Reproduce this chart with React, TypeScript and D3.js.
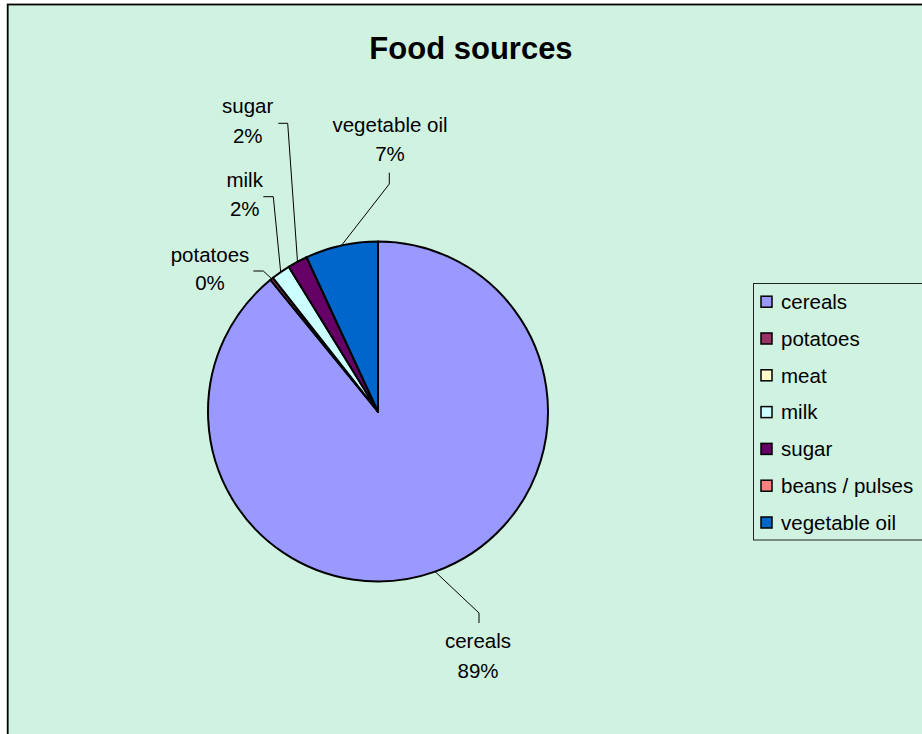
import React from 'react';
import * as d3 from 'd3';

const chartTitle = 'Food sources';
const categories = ['cereals', 'potatoes', 'meat', 'milk', 'sugar', 'beans / pulses', 'vegetable oil'];
const shares = [89.1, 0.3, 0, 1.8, 1.9, 0, 6.9];
const sliceColors = ['#9999FF', '#993366', '#FFFFCC', '#CCFFFF', '#660066', '#FF8080', '#0066CC'];

// label placement (user-moved data labels): text centre x, two baselines, leader elbow + end
const labelLayout: Record<string, { x: number; y1: number; y2: number; leader: [number, number][] }> = {
  cereals: { x: 478, y1: 648, y2: 678, leader: [[479, 613], [479, 623]] },
  potatoes: { x: 210, y1: 262, y2: 290, leader: [[263.3, 271], [253.3, 271]] },
  milk: { x: 244.7, y1: 187, y2: 216, leader: [[273.3, 196.7], [263.3, 196.7]] },
  sugar: { x: 247.7, y1: 112.5, y2: 143, leader: [[287.7, 123.3], [278.3, 123.3]] },
  'vegetable oil': { x: 390, y1: 131.5, y2: 160.5, leader: [[389.3, 184], [389.3, 172.7]] },
};

const W = 922;
const H = 734;
const cx = 378;
const cy = 411.5;
const R = 170;
const BG = '#D0F2E0';
const FONT = '"Liberation Sans", Arial, sans-serif';

export default function App() {
  const data = categories.map((c, i) => ({ name: c, value: shares[i], color: sliceColors[i] }));
  const total = d3.sum(shares);
  const pie = d3
    .pie<{ name: string; value: number; color: string }>()
    .sort(null)
    .value((d) => d.value)
    .startAngle(0)
    .endAngle(2 * Math.PI);
  const arcs = pie(data);
  const arcGen = d3.arc<d3.PieArcDatum<any>>().innerRadius(0).outerRadius(R);
  const fmt = d3.format('.0%');

  const legendX = 753.5;
  const legendY = 283.5;
  const legendStep = 36.8;
  const legendFirst = 301.7;

  return (
    <svg
      width={W}
      height={H}
      style={{ position: 'absolute', left: 0, top: 0, display: 'block' }}
      fontFamily={FONT}
    >
      <rect x={0} y={0} width={W} height={H} fill="#ffffff" />
      <rect x={7.7} y={4.5} width={1200} height={1200} fill={BG} stroke="#000" strokeWidth={1.8} />
      <text x={471} y={59} textAnchor="middle" fontSize={31} fontWeight="bold" fill="#000">
        {chartTitle}
      </text>

      <g transform={`translate(${cx},${cy})`}>
        {arcs.map((a, i) => (
          <path key={i} d={arcGen(a) || ''} fill={a.data.color} stroke="#000" strokeWidth={2} strokeLinejoin="round" />
        ))}
      </g>

      {arcs.map((a, i) => {
        const lay = labelLayout[a.data.name];
        if (!lay || a.data.value === 0) return null;
        const mid = (a.startAngle + a.endAngle) / 2;
        const sx = cx + R * Math.sin(mid);
        const sy = cy - R * Math.cos(mid);
        const pts: [number, number][] = [[sx, sy], ...lay.leader];
        const line = d3.line()(pts) || '';
        return (
          <g key={'l' + i}>
            <path d={line} fill="none" stroke="#000" strokeWidth={1} />
            <text x={lay.x} y={lay.y1} textAnchor="middle" fontSize={20.5} fill="#000">
              {a.data.name}
            </text>
            <text x={lay.x} y={lay.y2} textAnchor="middle" fontSize={20.5} fill="#000">
              {fmt(a.data.value / total)}
            </text>
          </g>
        );
      })}

      <rect x={legendX} y={legendY} width={260} height={256.5} fill={BG} stroke="#222" strokeWidth={1} />
      {data.map((d, i) => {
        const y = legendFirst + i * legendStep;
        return (
          <g key={'lg' + i}>
            <rect x={761} y={y - 5.5} width={11} height={11} fill={d.color} stroke="#000" strokeWidth={1.5} />
            <text x={781} y={y + 7.3} fontSize={20.5} fill="#000">
              {d.name}
            </text>
          </g>
        );
      })}
    </svg>
  );
}
